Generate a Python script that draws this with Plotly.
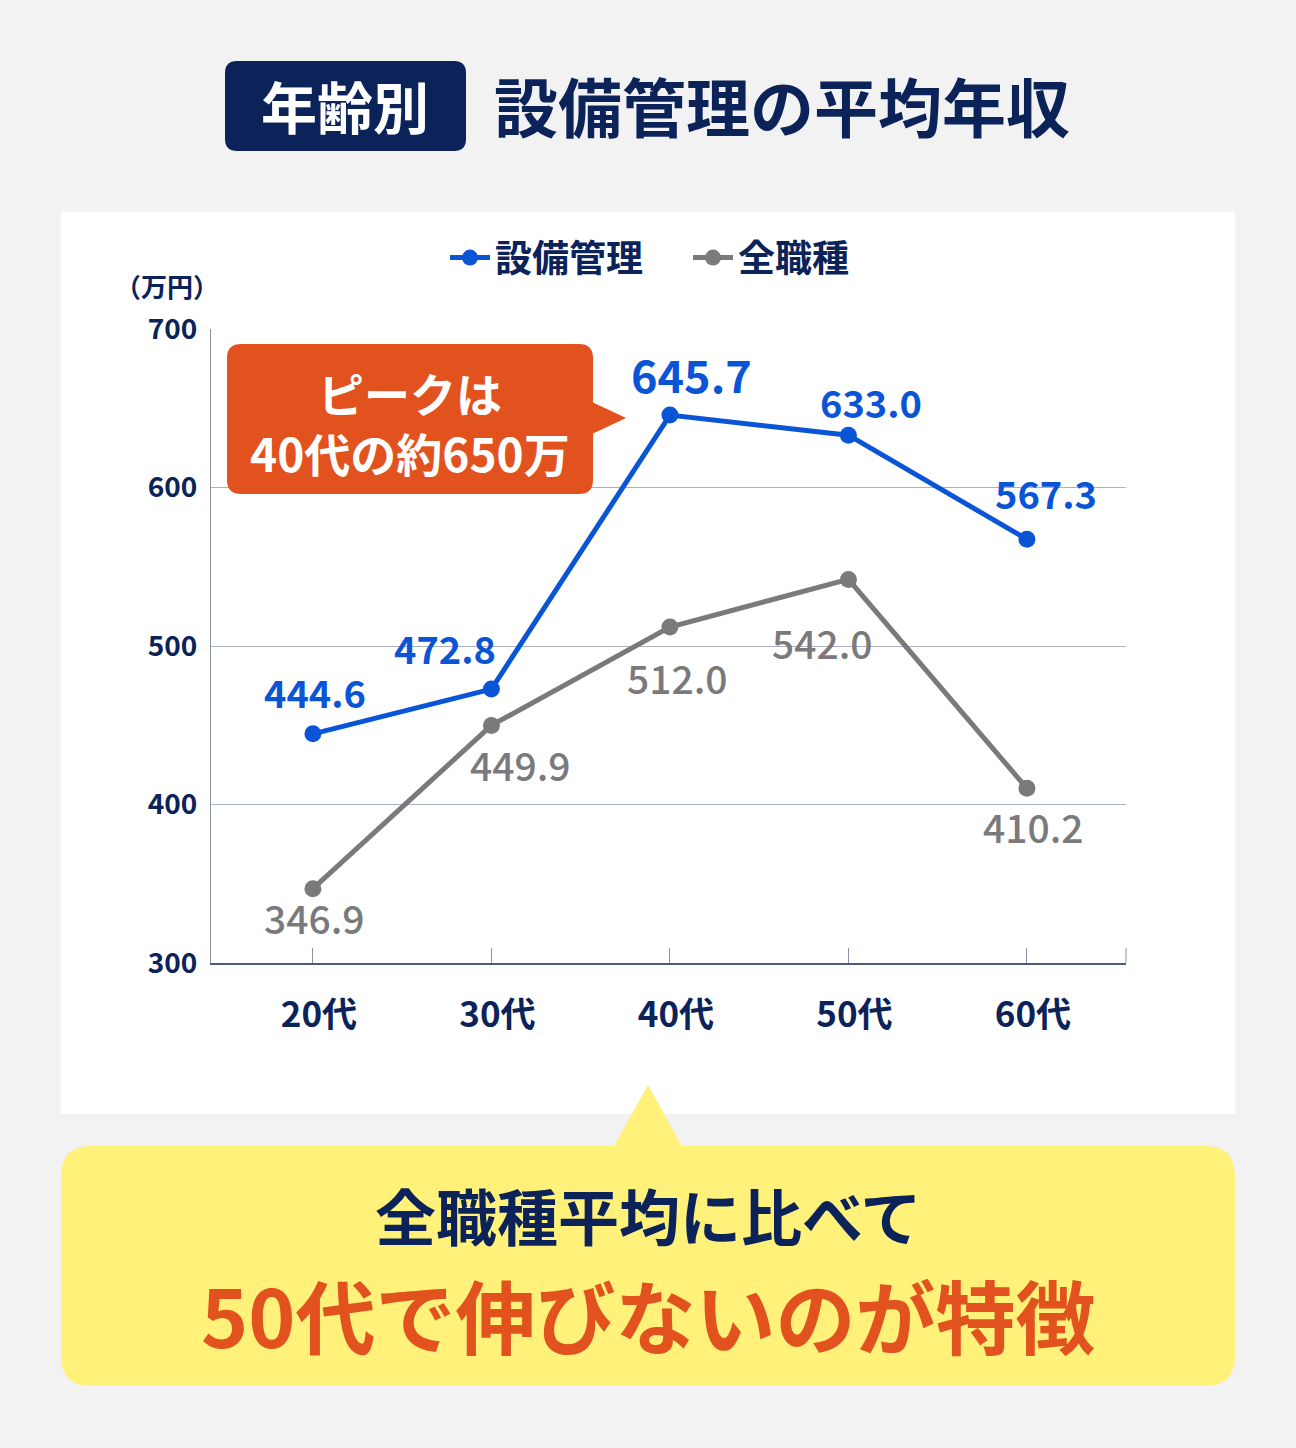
import plotly.graph_objects as go

# ---- data ----
categories = ["20代", "30代", "40代", "50代", "60代"]
setsubi_values = [444.6, 472.8, 645.7, 633.0, 567.3]
all_jobs_values = [346.9, 449.9, 512.0, 542.0, 410.2]
series_names = ["設備管理", "全職種"]
y_ticks = [300, 400, 500, 600, 700]

# ---- styles ----
W, H = 1296, 1448
L, R, T, B = 211, 1126, 329, 963
NAVY = "#0b2358"
BLUE = "#0a55d6"
GRAY = "#7a7a7c"
ORANGE = "#e2521f"
YELLOW = "#fff17a"
FONT = "Noto Sans CJK JP"

def px(x):
    return (x - L) / (R - L)

def py(y):
    return (B - y) / (B - T)

fig = go.Figure()
fig.add_trace(go.Scatter(
    x=categories, y=setsubi_values, name=series_names[0], mode="lines+markers",
    line=dict(color=BLUE, width=5), marker=dict(color=BLUE, size=17),
))
fig.add_trace(go.Scatter(
    x=categories, y=all_jobs_values, name=series_names[1], mode="lines+markers",
    line=dict(color=GRAY, width=5), marker=dict(color=GRAY, size=17),
))

annotations = []
# data labels (offsets in pixels)
blue_offsets = [(2, 42), (-46, 42), (22, 42), (23, 34), (19, 47)]
blue_sizes = [38, 38, 45, 38, 38]
for c, v, (dx, dy), s in zip(categories, setsubi_values, blue_offsets, blue_sizes):
    annotations.append(dict(x=c, y=v, xref="x", yref="y", text=f"{v:.1f}", showarrow=False,
                            xshift=dx, yshift=dy, xanchor="center", yanchor="middle",
                            font=dict(family=FONT, size=s, color=BLUE, weight=700)))
gray_offsets = [(2, -28), (29, -39), (8, -50), (-26, -63), (7, -38)]
for c, v, (dx, dy) in zip(categories, all_jobs_values, gray_offsets):
    annotations.append(dict(x=c, y=v, xref="x", yref="y", text=f"{v:.1f}", showarrow=False,
                            xshift=dx, yshift=dy, xanchor="center", yanchor="middle",
                            font=dict(family=FONT, size=39, color=GRAY, weight=500)))

def label(xp, yp, text, size, color, weight=700):
    annotations.append(dict(x=px(xp), y=py(yp), xref="paper", yref="paper", text=text,
                            showarrow=False, xanchor="center", yanchor="middle",
                            font=dict(family=FONT, size=size, color=color, weight=weight)))

label(167, 285, "（万円）", 26, NAVY)
label(345, 105, "年齢別", 56, "white")
label(782, 104, "設備管理の平均年収", 64, NAVY)
label(410, 392, "ピークは", 46, "white")
label(410, 452, "40代の約650万", 46, "white")
label(648, 1214, "全職種平均に比べて", 61, NAVY)
label(648, 1313, "50代で伸びないのが特徴", 80, ORANGE)

def rounded_rect(x0, y0, x1, y1, r):
    return (f"M {x0+r},{y0} L {x1-r},{y0} Q {x1},{y0} {x1},{y0+r} L {x1},{y1-r} "
            f"Q {x1},{y1} {x1-r},{y1} L {x0+r},{y1} Q {x0},{y1} {x0},{y1-r} "
            f"L {x0},{y0+r} Q {x0},{y0} {x0+r},{y0} Z")

def to_paper_path(path_px):
    out = []
    for tok in path_px.split(" "):
        if "," in tok:
            a, b = tok.split(",")
            out.append(f"{px(float(a)):.5f},{py(float(b)):.5f}")
        else:
            out.append(tok)
    return " ".join(out)

shapes = [
    dict(type="rect", xref="paper", yref="paper", x0=px(61), x1=px(1235), y0=py(1114), y1=py(212),
         fillcolor="white", line=dict(width=0), layer="below"),
    dict(type="path", xref="paper", yref="paper", path=to_paper_path(rounded_rect(225, 61, 466, 151, 12)),
         fillcolor=NAVY, line=dict(width=0), layer="below"),
    dict(type="path", xref="paper", yref="paper", path=to_paper_path(rounded_rect(227, 344, 593, 494, 14)),
         fillcolor=ORANGE, line=dict(width=0), layer="above"),
    dict(type="path", xref="paper", yref="paper", path=to_paper_path("M 592,402 L 626,418 L 592,434 Z"),
         fillcolor=ORANGE, line=dict(width=0), layer="above"),
    dict(type="path", xref="paper", yref="paper", path=to_paper_path(rounded_rect(61, 1146, 1235, 1386, 30)),
         fillcolor=YELLOW, line=dict(width=0), layer="below"),
    dict(type="path", xref="paper", yref="paper", path=to_paper_path("M 613,1148 L 648,1085 L 683,1148 Z"),
         fillcolor=YELLOW, line=dict(width=0), layer="below"),
    dict(type="line", xref="paper", yref="paper", x0=1, x1=1, y0=0, y1=py(948),
         line=dict(color="#8a94a8", width=1)),
]

fig.update_layout(
    width=W, height=H,
    margin=dict(l=L, r=W - R, t=T, b=H - B, pad=0),
    paper_bgcolor="#f2f2f2", plot_bgcolor="rgba(0,0,0,0)",
    font=dict(family=FONT, color=NAVY),
    showlegend=True,
    legend=dict(orientation="h", x=px(445), xanchor="left", y=py(258), yanchor="middle",
                font=dict(family=FONT, size=37, color=NAVY, weight=700),
                bgcolor="rgba(0,0,0,0)", itemwidth=40,
                entrywidth=188, entrywidthmode="pixels"),
    xaxis=dict(type="category", range=[-0.571, 4.555], showgrid=False,
               showline=True, linecolor="#4a5a78", linewidth=1.5,
               ticks="inside", ticklen=15, tickcolor="#8a94a8", tickwidth=1,
               tickfont=dict(family=FONT, size=35, color=NAVY, weight=700),
               ticklabelstandoff=20, ticklabelshift=6, zeroline=False, fixedrange=True),
    yaxis=dict(range=[300, 700], tickvals=y_ticks, showgrid=True, gridcolor="#aab2c2", gridwidth=1,
               showline=True, linecolor="#8a94a8", linewidth=1,
               ticks="", tickfont=dict(family=FONT, size=28, color=NAVY, weight=700),
               ticklabelstandoff=7, zeroline=False, fixedrange=True),
    annotations=annotations,
    shapes=shapes,
)

fig.write_html("out.html", config={"displayModeBar": False},
               post_script="document.body.style.margin='0';document.body.style.overflow='hidden';")
